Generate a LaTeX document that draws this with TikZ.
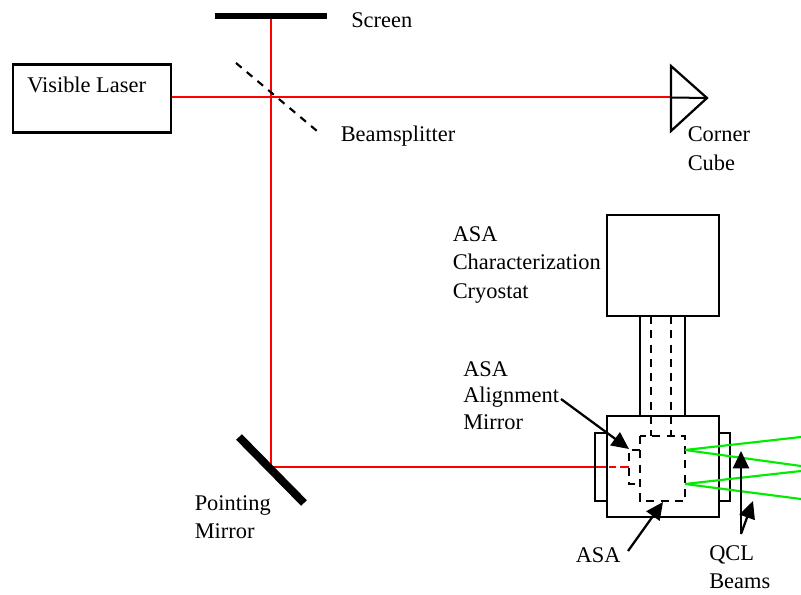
\documentclass[tikz,border=0pt]{standalone}
\usepackage{fontspec}
\setmainfont{Liberation Serif}
\usetikzlibrary{arrows.meta}
\definecolor{beamgreen}{rgb}{0,0.93,0}
\tikzset{
 x=0.75pt,y=-0.75pt,
 blk/.style={draw=black,line width=1.7pt},
 dsh/.style={draw=black,line width=1.6pt,dash pattern=on 6pt off 4.7pt},
 redb/.style={draw=red,line width=1.5pt},
 grn/.style={draw=beamgreen,line width=1.6pt},
 arr/.style={draw=black,line width=1.7pt,-{Triangle[length=13pt,width=12pt]}},
 lbl/.style={font=\fontsize{16.8}{21.4}\selectfont,inner sep=0pt,align=left,anchor=north west,
   execute at begin node=\rule{0pt}{12pt}},
}
\begin{document}
\begin{tikzpicture}
\useasboundingbox (0,0) rectangle (801,595);
% laser
\node[draw=black,line width=1.7pt,minimum width=118.5pt,minimum height=51pt,anchor=north west,inner sep=0pt] (laser) at (12,63.5) {};
% screen
\node[fill=black,minimum width=84pt,minimum height=4.5pt,inner sep=0pt] (screen) at (271,16) {};
% corner cube
\coordinate (cct) at (671,66);
\coordinate (ccb) at (671,131);
\coordinate (cct2) at (707,98);
\coordinate (cc) at (671,97.5);
% beam junctions
\coordinate (pm) at (271,467);
\coordinate (bs) at (271,97.5);
\coordinate (win) at (606,467);
\coordinate (dstart) at (609,467);
\coordinate (dend) at (629,467);
% red beams
\draw[redb] (screen.south) -- (pm) -- (win);
\draw[redb] (laser.east |- bs) -- (cc);
\draw[redb,dash pattern=on 5pt off 3.5pt on 7.5pt off 0pt] (dstart) -- (dend);
% beamsplitter
\coordinate (bsa) at (236,63);
\coordinate (bsb) at (317,131);
\draw[dsh,dash pattern=on 5.5pt off 5pt] (bsa) -- (bsb);
\draw[blk,line join=miter] (cct) -- (cct2) -- (ccb) -- cycle;
\draw[draw=black,line width=1.5pt] (cc) -- (cct2);
% pointing mirror
\coordinate (pma) at (239,437);
\coordinate (pmb) at (304,503);
\draw[draw=black,line width=6pt] (pma) -- (pmb);
% cryostat
\draw[blk] (607,215) rectangle (719,316);
\draw[blk] (640,316) rectangle (685,416);
\draw[blk] (607,416) rectangle (719,517);
\draw[blk] (595,433) rectangle (607,501);
\draw[blk] (719,433) rectangle (730,501);
% dashed tube and array
\draw[dsh] (651,316) -- (651,436);
\draw[dsh] (671,316) -- (671,436);
\draw[dsh] (640,436) rectangle (685,501);
\draw[dsh] (640,450) -- (629,450) -- (629,484) -- (640,484);
% green
\coordinate (g1) at (685,450);
\coordinate (g2) at (685,484);
\draw[grn] (g1) -- (801,437);
\draw[grn] (g1) -- (801,466);
\draw[grn] (g2) -- (801,471);
\draw[grn] (g2) -- (801,499);
% labels
\node[lbl] (t1) at (27,76) {Visible Laser};
\node[lbl] (t2) at (351,11) {Screen};
\node[lbl] (t3) at (340.5,125.5) {Beamsplitter};
\node[lbl] (t4) at (687.5,126.5) {Corner\\Cube};
\node[lbl] (t5) at (452.5,226) {ASA\\Characterization\\Cryostat};
\node[lbl,font=\fontsize{16.8}{20}\selectfont] (t6) at (463,361) {ASA\\Alignment\\Mirror};
\node[lbl] (t7) at (194.5,495) {Pointing\\Mirror};
\node[lbl] (t8) at (575.5,546) {ASA};
\node[lbl] (t9) at (709,545) {QCL\\Beams};
% arrows
\coordinate (a1s) at (561,399);
\coordinate (a1e) at (629,449);
\coordinate (a2s) at (628,551);
\coordinate (a2e) at (663,502);
\coordinate (a3s) at (741,534);
\coordinate (a3e) at (741,451);
\coordinate (a4e) at (753,501);
\draw[arr] (a1s) -- (a1e);
\draw[arr] (a2s) -- (a2e);
\draw[arr] (a3s) -- (a3e);
\draw[arr] (a3s) -- (a4e);
\end{tikzpicture}
\end{document}
